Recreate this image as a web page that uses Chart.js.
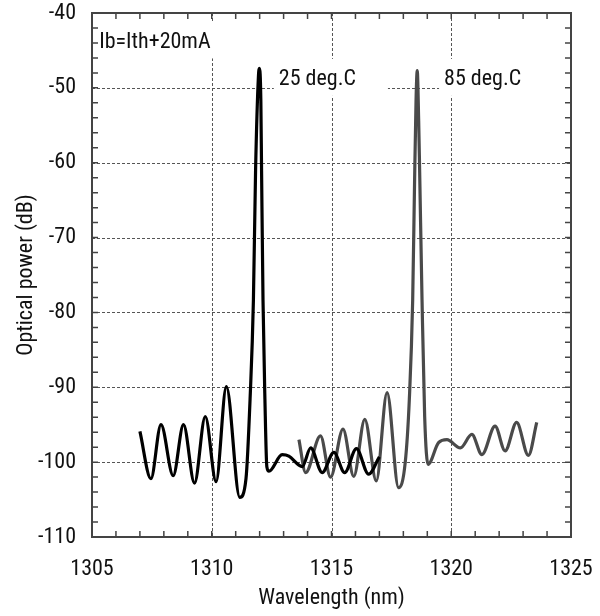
<!DOCTYPE html>
<html>
<head>
<meta charset="utf-8">
<script src="https://cdn.jsdelivr.net/npm/chart.js@4.4.1/dist/chart.umd.min.js"></script>
<style>
  body { margin: 0; background: #fff; }
  #spectrum { display: block; }
</style>
</head>
<body>
<canvas id="spectrum" width="600" height="616"></canvas>
<script>
// spectrum at 25 deg.C (nm / dB)
var wl25 = [1307.0, 1307.46, 1307.88, 1308.39, 1308.82, 1309.28, 1309.73, 1310.18, 1310.61, 1311.17,
  1311.43, 1311.6, 1311.74, 1311.83, 1311.95, 1311.99, 1312.05, 1312.08, 1312.14, 1312.22, 1312.3,
  1312.39, 1312.94, 1313.22, 1313.64, 1313.78, 1314.13, 1314.61, 1315.1, 1315.55, 1316.04, 1316.55, 1317.0];
var pw25 = [-95.9, -102.2, -95.0, -101.8, -95.0, -102.8, -93.9, -102.6, -89.9, -104.7,
  -102.2, -91.6, -78.3, -61.0, -48.4, -47.4, -51.7, -61.0, -78.3, -91.6, -100.6,
  -101.2, -99.0, -99.2, -100.4, -100.6, -98.1, -101.4, -98.7, -101.4, -98.2, -101.6, -99.3];

// spectrum at 85 deg.C
var wl85 = [1313.64, 1313.92, 1314.54, 1314.96, 1315.48, 1315.93, 1316.39, 1316.87, 1317.32, 1317.8,
  1318.08, 1318.25, 1318.39, 1318.47, 1318.53, 1318.58, 1318.64, 1318.68, 1318.78, 1318.89, 1319.03,
  1319.47, 1319.82, 1320.38, 1320.86, 1321.28, 1321.83, 1322.25, 1322.73, 1323.22, 1323.57];
var pw85 = [-97.0, -101.4, -96.5, -102.0, -95.6, -101.9, -94.3, -102.5, -90.7, -103.4,
  -100.0, -91.6, -78.3, -62.3, -51.7, -47.7, -54.4, -61.0, -78.3, -93.9, -100.3,
  -97.4, -97.0, -98.1, -96.3, -99.0, -95.2, -98.5, -94.7, -99.1, -94.7];

var xTicks = [1305, 1310, 1315, 1320, 1325];
var yTicks = [-110, -100, -90, -80, -70, -60, -50, -40];

var notes = [
  { text: "Ib=Ith+20mA", x: 1305.3, y: -43.8, padR: 35 },
  { text: "25 deg.C", x: 1312.8, y: -48.8, padR: 32 },
  { text: "85 deg.C", x: 1319.7, y: -48.8, padR: 55 }
];

var FONT = "'Roboto Condensed', Roboto, sans-serif";

function pairs(xs, ys) {
  return xs.map(function (x, i) { return { x: x, y: ys[i] }; });
}

function noPad(s) {
  s.paddingLeft = 0; s.paddingRight = 0; s.paddingTop = 0; s.paddingBottom = 0;
}

var framePlugin = {
  id: "frame",
  beforeDatasetsDraw: function (chart) {
    var ctx = chart.ctx, a = chart.chartArea;
    var xs = chart.scales.x, ys = chart.scales.y;
    ctx.save();
    ctx.strokeStyle = "#555";
    ctx.lineWidth = 1;
    ctx.setLineDash([3, 2]);
    xTicks.slice(1, -1).forEach(function (v) {
      var px = Math.round(xs.getPixelForValue(v)) + 0.5;
      ctx.beginPath(); ctx.moveTo(px, a.top); ctx.lineTo(px, a.bottom); ctx.stroke();
    });
    yTicks.slice(1, -1).forEach(function (v) {
      var py = Math.round(ys.getPixelForValue(v)) + 0.5;
      ctx.beginPath(); ctx.moveTo(a.left, py); ctx.lineTo(a.right, py); ctx.stroke();
    });
    ctx.setLineDash([]);
    // labels with white boxes over the grid
    ctx.font = "22px " + FONT;
    ctx.textBaseline = "middle";
    notes.forEach(function (n) {
      var px = xs.getPixelForValue(n.x), py = ys.getPixelForValue(n.y);
      var w = ctx.measureText(n.text).width;
      ctx.fillStyle = "#fff";
      ctx.fillRect(px - 5, py - 20, w + 5 + n.padR, 37);
      ctx.fillStyle = "#111";
      ctx.fillText(n.text, px, py + 1);
    });
    ctx.restore();
  },
  afterDatasetsDraw: function (chart) {
    var ctx = chart.ctx, a = chart.chartArea;
    var xs = chart.scales.x, ys = chart.scales.y;
    var len = 6;
    ctx.save();
    ctx.strokeStyle = "#444";
    ctx.lineWidth = 1.5;
    for (var v = 1306; v < 1325; v++) {
      var px = xs.getPixelForValue(v);
      ctx.beginPath();
      ctx.moveTo(px, a.bottom); ctx.lineTo(px, a.bottom - len);
      ctx.moveTo(px, a.top); ctx.lineTo(px, a.top + len);
      ctx.stroke();
    }
    for (var w = -108; w < -40; w += 2) {
      var py = ys.getPixelForValue(w);
      ctx.beginPath();
      ctx.moveTo(a.left, py); ctx.lineTo(a.left + len, py);
      ctx.moveTo(a.right, py); ctx.lineTo(a.right - len, py);
      ctx.stroke();
    }
    ctx.lineWidth = 2;
    ctx.strokeRect(a.left, a.top, a.right - a.left, a.bottom - a.top);
    ctx.restore();
  }
};

new Chart("spectrum", {
  type: "scatter",
  data: {
    datasets: [{
      label: "25 deg.C",
      data: pairs(wl25, pw25),
      showLine: true,
      borderColor: "#000",
      borderWidth: 3.2,
      pointRadius: 0,
      cubicInterpolationMode: "monotone"
    }, {
      label: "85 deg.C",
      data: pairs(wl85, pw85),
      showLine: true,
      borderColor: "#4a4a4a",
      borderWidth: 3.2,
      pointRadius: 0,
      cubicInterpolationMode: "monotone"
    }]
  },
  options: {
    responsive: false,
    animation: false,
    layout: { padding: { top: 13, right: 29, left: 0, bottom: 0 } },
    plugins: { legend: { display: false }, tooltip: { enabled: false } },
    scales: {
      x: {
        type: "linear",
        min: 1305, max: 1325,
        grid: { display: false },
        border: { display: false },
        afterBuildTicks: function (s) { s.ticks = xTicks.map(function (v) { return { value: v }; }); },
        afterFit: function (s) { s.height = 79; noPad(s); },
        ticks: {
          color: "#111", padding: 11, maxRotation: 0, font: { family: FONT, size: 22 },
          callback: function (v) { return String(v); }
        },
        title: { display: true, text: "Wavelength (nm)", color: "#111", padding: { top: 6 }, font: { family: FONT, size: 22 } }
      },
      y: {
        type: "linear",
        min: -110, max: -40,
        grid: { display: false },
        border: { display: false },
        afterBuildTicks: function (s) { s.ticks = yTicks.map(function (v) { return { value: v }; }); },
        afterFit: function (s) { s.width = 92; noPad(s); },
        ticks: {
          color: "#111", padding: 8, font: { family: FONT, size: 22 },
          callback: function (v) { return String(v); }
        },
        title: { display: true, text: "Optical power (dB)", color: "#111", padding: { top: 13 }, font: { family: FONT, size: 22 } }
      }
    }
  },
  plugins: [framePlugin]
});
</script>
</body>
</html>
